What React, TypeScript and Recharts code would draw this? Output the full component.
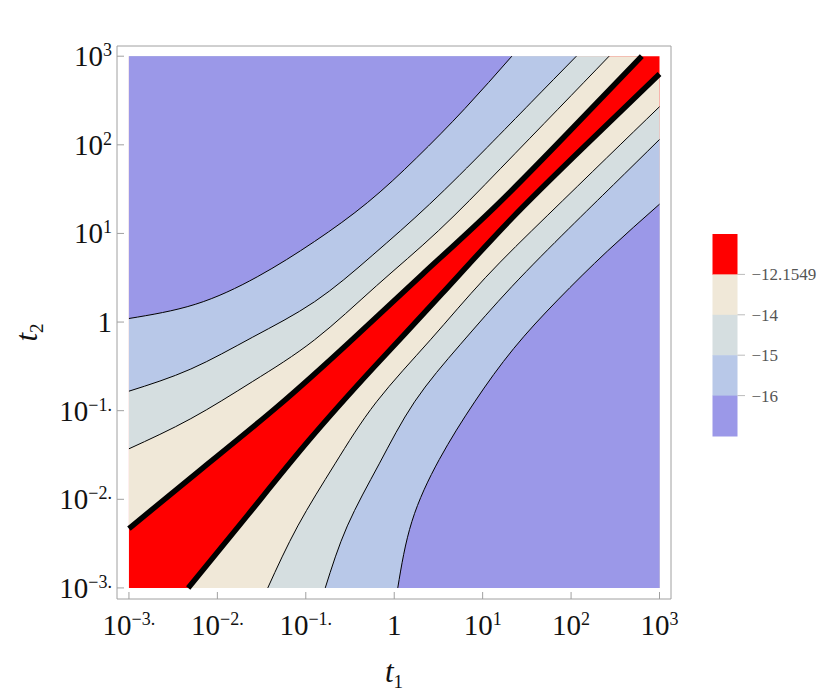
import { Area, ComposedChart, Label, Line, XAxis, YAxis } from 'recharts'

// everything is in log10 units: x = log10 t1, y = log10 t2
const DATA_MIN = -3
const DATA_MAX = 3
const TICKS = [-3, -2, -1, 0, 1, 2, 3]
const TICK_EXPONENTS = ['−3.', '−2.', '−1.', '', '1', '2', '3']

const LEVELS = ['−12.1549', '−14', '−15', '−16']
// band colours, highest level first
const BAND_COLORS = ['#ff0000', '#f0e8d8', '#d5dee0', '#b8c8e8', '#9b98e8']

// contours above the diagonal (they leave through the top edge)
const UPPER_12: [number, number][] = [
  [-3, -2.33], [-2.17, -1.65], [-1.34, -0.97], [-0.51, -0.23], [0.32, 0.54], [1.15, 1.31], [1.98, 2.15], [2.8, 3],
]
const UPPER_14: [number, number][] = [
  [-3, -1.43], [-2.3, -1.09], [-1.6, -0.67], [-0.9, -0.2], [-0.2, 0.41], [0.5, 1.03], [1.2, 1.73], [1.85, 2.4], [2.43, 3],
]
const UPPER_15: [number, number][] = [
  [-3, -0.78], [-2.3, -0.53], [-1.6, -0.17], [-0.9, 0.23], [-0.25, 0.75], [0.4, 1.33], [1.05, 1.97], [1.55, 2.48], [2.06, 3],
]
const UPPER_16: [number, number][] = [
  [-3, 0.04], [-2.25, 0.2], [-1.55, 0.51], [-0.9, 0.91], [-0.3, 1.35], [0.25, 1.85], [0.8, 2.41], [1.33, 3],
]

// contours below the diagonal (they start on the bottom edge)
const LOWER_12: [number, number][] = [
  [-2.33, -3], [-1.65, -2.17], [-0.97, -1.34], [-0.23, -0.51], [0.54, 0.32], [1.31, 1.15], [2.15, 1.98], [3, 2.8],
]
const LOWER_14: [number, number][] = [
  [-1.43, -3], [-1.09, -2.3], [-0.67, -1.6], [-0.2, -0.9], [0.41, -0.2], [1.03, 0.5], [1.73, 1.2], [2.4, 1.85], [3, 2.43],
]
const LOWER_15: [number, number][] = [
  [-0.78, -3], [-0.53, -2.3], [-0.17, -1.6], [0.23, -0.9], [0.75, -0.25], [1.33, 0.4], [1.97, 1.05], [2.48, 1.55], [3, 2.06],
]
const LOWER_16: [number, number][] = [
  [0.04, -3], [0.2, -2.25], [0.51, -1.55], [0.91, -0.9], [1.35, -0.3], [1.85, 0.25], [2.41, 0.8], [3, 1.33],
]

const FONT = "'Liberation Serif', 'Times New Roman', serif"
const FRAME = '#a0a0a0'

const toRows = (pts: [number, number][], side: 'up' | 'down') =>
  pts.map(([x, y]) => ({ x, y, band: side === 'up' ? [y, DATA_MAX] : [DATA_MIN, y] }))

const background = [
  { x: DATA_MIN, band: [DATA_MIN, DATA_MAX] },
  { x: DATA_MAX, band: [DATA_MIN, DATA_MAX] },
]

const fills = [
  { key: 'u12', rows: toRows(UPPER_12, 'up'), color: BAND_COLORS[1] },
  { key: 'u14', rows: toRows(UPPER_14, 'up'), color: BAND_COLORS[2] },
  { key: 'u15', rows: toRows(UPPER_15, 'up'), color: BAND_COLORS[3] },
  { key: 'u16', rows: toRows(UPPER_16, 'up'), color: BAND_COLORS[4] },
  { key: 'l12', rows: toRows(LOWER_12, 'down'), color: BAND_COLORS[1] },
  { key: 'l14', rows: toRows(LOWER_14, 'down'), color: BAND_COLORS[2] },
  { key: 'l15', rows: toRows(LOWER_15, 'down'), color: BAND_COLORS[3] },
  { key: 'l16', rows: toRows(LOWER_16, 'down'), color: BAND_COLORS[4] },
]

const lines = [
  { key: 'c16a', rows: toRows(UPPER_16, 'up'), width: 1 },
  { key: 'c15a', rows: toRows(UPPER_15, 'up'), width: 1 },
  { key: 'c14a', rows: toRows(UPPER_14, 'up'), width: 1 },
  { key: 'c14b', rows: toRows(LOWER_14, 'down'), width: 1 },
  { key: 'c15b', rows: toRows(LOWER_15, 'down'), width: 1 },
  { key: 'c16b', rows: toRows(LOWER_16, 'down'), width: 1 },
  { key: 'c12a', rows: toRows(UPPER_12, 'up'), width: 5.5 },
  { key: 'c12b', rows: toRows(LOWER_12, 'down'), width: 5.5 },
]

function Power({ value }: { value: number }) {
  const exp = TICK_EXPONENTS[TICKS.indexOf(value)]
  if (!exp) return <>1</>
  return (
    <>
      10
      <tspan dy={-10} fontSize={18}>
        {exp}
      </tspan>
    </>
  )
}

function BottomTick({ x, y, payload }: any) {
  return (
    <text x={x} y={y + 23} textAnchor="middle" fontFamily={FONT} fontSize={29} fill="#111">
      <Power value={payload.value} />
    </text>
  )
}

function LeftTick({ x, y, payload }: any) {
  return (
    <text x={x} y={y + 10} textAnchor="end" fontFamily={FONT} fontSize={29} fill="#111">
      <Power value={payload.value} />
    </text>
  )
}

function ColorBar() {
  const top = 14
  const h = 40.4
  return (
    <svg width={130} height={240} style={{ position: 'absolute', left: 700, top: 220 }}>
      {BAND_COLORS.map((c, i) => (
        <rect key={c} x={12.5} y={top + i * h} width={25} height={h + 0.5} fill={c} />
      ))}
      {LEVELS.map((lv, i) => {
        const yy = top + (i + 1) * h
        return (
          <g key={lv}>
            <line x1={37.5} x2={45} y1={yy} y2={yy} stroke="#bbb" />
            <text x={51.5} y={yy + 6} fontFamily={FONT} fontSize={17} fill="#555">
              {lv}
            </text>
          </g>
        )
      })}
    </svg>
  )
}

export default function App() {
  const xDomain = [-3.135, 3.13]
  const yDomain = [-3.125, 3.115]
  return (
    <div style={{ position: 'absolute', left: 0, top: 0, width: 830, height: 696, background: '#fff' }}>
      <ComposedChart width={830} height={696} margin={{ top: 45, right: 158, bottom: 0, left: 0 }}>
        <XAxis
          type="number"
          dataKey="x"
          domain={xDomain}
          allowDataOverflow
          ticks={TICKS}
          height={97}
          stroke={FRAME}
          tickSize={-7}
          tickMargin={20}
          tick={<BottomTick />}
        >
          <Label
            content={({ viewBox }: any) => (
              <text
                x={viewBox.x + viewBox.width / 2}
                y={viewBox.y + 83}
                textAnchor="middle"
                fontFamily={FONT}
                fontSize={31}
                fill="#111"
              >
                <tspan fontStyle="italic">t</tspan>
                <tspan dy={6} fontSize={19}>
                  1
                </tspan>
              </text>
            )}
          />
        </XAxis>
        <XAxis
          xAxisId="top"
          orientation="top"
          type="number"
          dataKey="x"
          domain={xDomain}
          allowDataOverflow
          ticks={TICKS}
          height={1}
          stroke={FRAME}
          tickSize={-7}
          tick={false}
        />
        <YAxis
          type="number"
          dataKey="y"
          domain={yDomain}
          allowDataOverflow
          ticks={TICKS}
          width={117}
          stroke={FRAME}
          tickSize={-7}
          tickMargin={12}
          tick={<LeftTick />}
        >
          <Label
            content={({ viewBox }: any) => {
              const cx = viewBox.x + 37
              const cy = viewBox.y + viewBox.height / 2 + 10
              return (
                <text
                  x={cx}
                  y={cy}
                  transform={`rotate(-90, ${cx}, ${cy})`}
                  textAnchor="middle"
                  fontFamily={FONT}
                  fontSize={31}
                  fill="#111"
                >
                  <tspan fontStyle="italic">t</tspan>
                  <tspan dy={6} fontSize={19}>
                    2
                  </tspan>
                </text>
              )
            }}
          />
        </YAxis>
        <YAxis
          yAxisId="right"
          orientation="right"
          type="number"
          dataKey="y"
          domain={yDomain}
          allowDataOverflow
          ticks={TICKS}
          width={1}
          stroke={FRAME}
          tickSize={-7}
          tick={false}
        />

        <Area
          data={background}
          dataKey="band"
          type="linear"
          stroke="none"
          fill={BAND_COLORS[0]}
          fillOpacity={1}
          dot={false}
          activeDot={false}
          isAnimationActive={false}
        />
        {/* natural splines are parametric, so the steep lower contours stay smooth */}
        {fills.map((f) => (
          <Area
            key={f.key}
            data={f.rows}
            dataKey="band"
            type="natural"
            stroke="none"
            fill={f.color}
            fillOpacity={1}
            dot={false}
            activeDot={false}
            isAnimationActive={false}
          />
        ))}
        {lines.map((l) => (
          <Line
            key={l.key}
            data={l.rows}
            dataKey="y"
            type="natural"
            stroke="#000"
            strokeWidth={l.width}
            dot={false}
            activeDot={false}
            isAnimationActive={false}
          />
        ))}
      </ComposedChart>
      <ColorBar />
    </div>
  )
}
